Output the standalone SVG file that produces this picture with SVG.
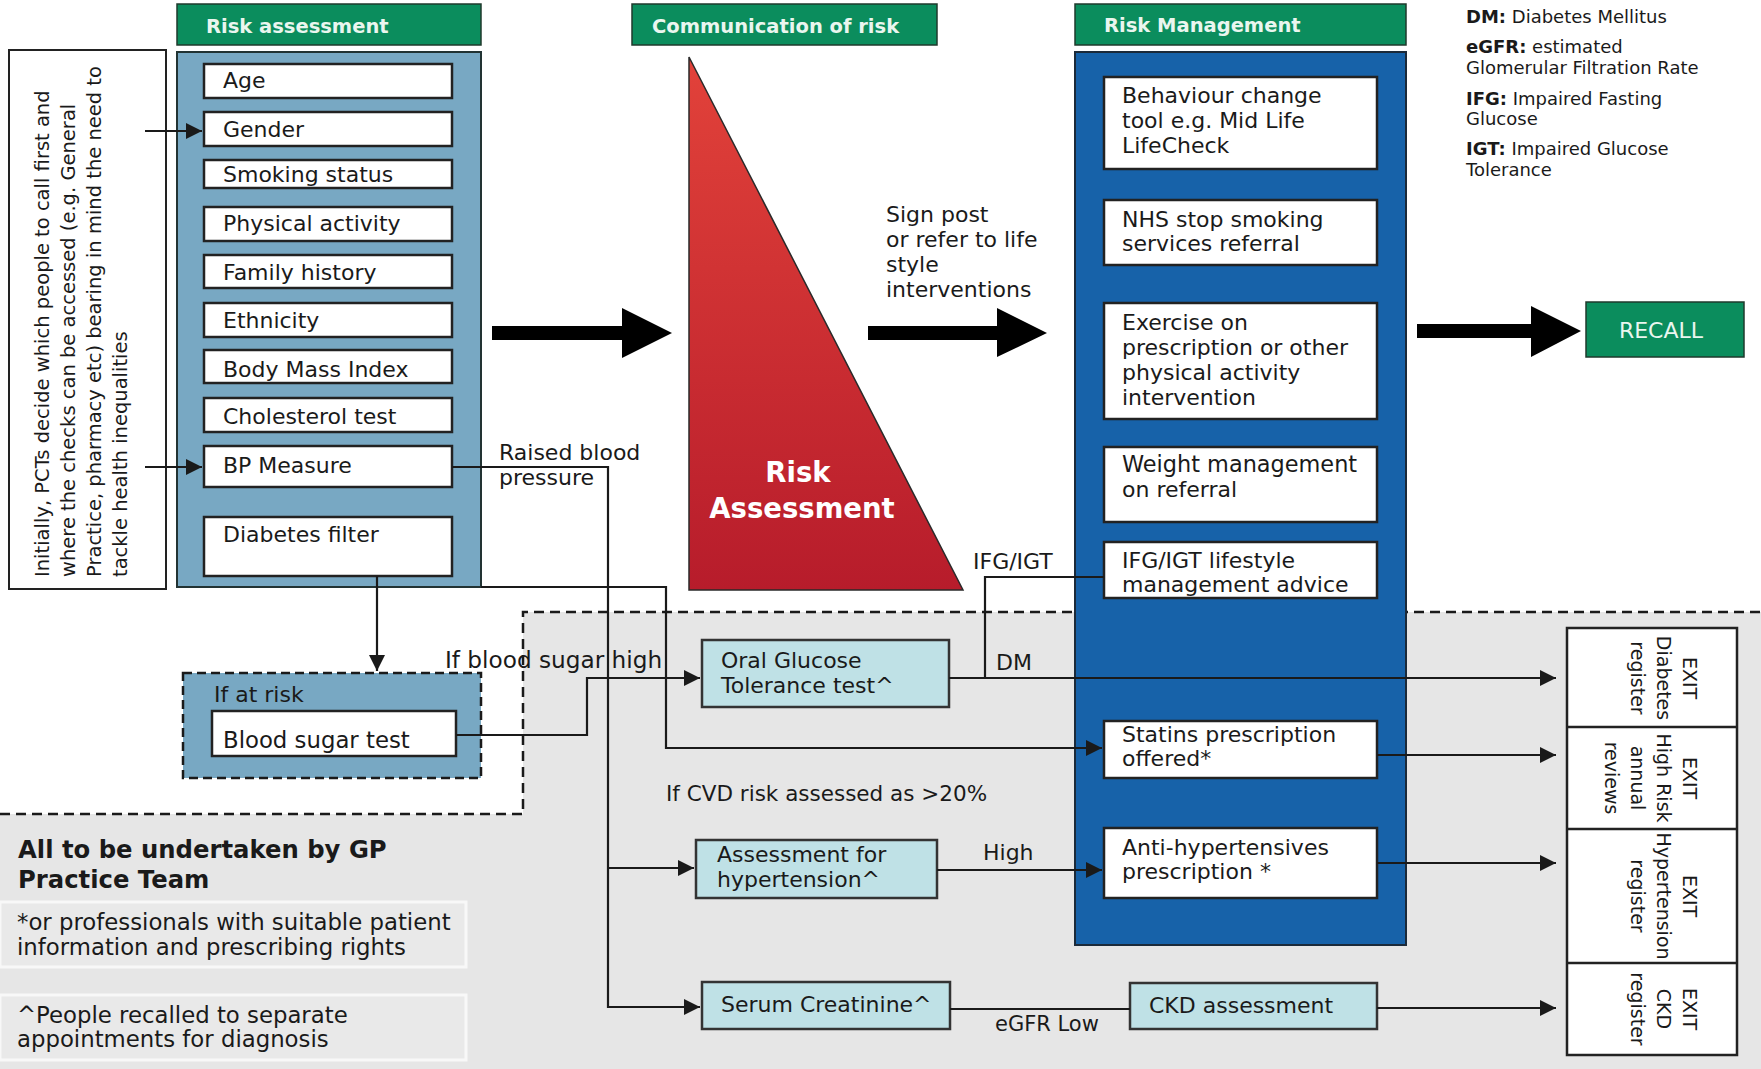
<svg xmlns="http://www.w3.org/2000/svg" width="1761" height="1069" viewBox="0 0 1761 1069" font-size="22">
<defs>
<marker id="ah" viewBox="0 0 10 10" refX="10" refY="5" markerWidth="17" markerHeight="16" markerUnits="userSpaceOnUse" orient="auto"><path d="M0,0 L10,5 L0,10 z" fill="#1a1a1a"/></marker>
<linearGradient id="red" x1="0" y1="0" x2="0" y2="1"><stop offset="0" stop-color="#e2423a"/><stop offset="1" stop-color="#b71c2b"/></linearGradient>
<style>
text{font-family:'DejaVu Sans','Open Sans',sans-serif;fill:#1a1a1a}
.hdr{fill:#0b8d5d;stroke:#1f3a2c;stroke-width:1.5}
.hdrt{font-weight:bold;font-size:19.5px;fill:#eaf6ef}
.item{fill:#ffffff;stroke:#222;stroke-width:2.5}
.cyan{fill:#bfe1e6;stroke:#333;stroke-width:2.5}
.conn{fill:none;stroke:#1a1a1a;stroke-width:2.2}
.arr{marker-end:url(#ah)}
.dash{fill:none;stroke:#1a1a1a;stroke-width:2.5;stroke-dasharray:10 6}
.note{fill:#e9e9e9;stroke:#f8f8f8;stroke-width:3}
.leg{font-size:18px}
.exit{font-size:19px}
.wt{fill:#ffffff;font-weight:bold;font-size:27.5px}
</style>
</defs>
<rect x="0" y="0" width="1761" height="1069" fill="#ffffff"/>
<path d="M523,612 H1761 V1069 H0 V814 H523 Z" fill="#e6e6e6"/>
<path class="dash" d="M0,814 H523 V612 H1761"/>

<g id="note-pcts">
<rect x="9" y="50" width="157" height="539" fill="#fff" stroke="#222" stroke-width="2"/>
<text transform="translate(49,577) rotate(-90)" font-size="19.5"><tspan x="0" y="0">Initially, PCTs decide which people to call first and</tspan><tspan x="0" y="26">where the checks can be accessed (e.g. General</tspan><tspan x="0" y="52">Practice, pharmacy etc) bearing in mind the need to</tspan><tspan x="0" y="78">tackle health inequalities</tspan></text>
</g>

<g id="risk-assessment">
<rect class="hdr" x="177" y="4" width="304" height="41"/>
<text class="hdrt" x="206" y="33">Risk assessment</text>
<rect x="177" y="52" width="304" height="535" fill="#78a8c3" stroke="#233" stroke-width="2"/>
<rect class="item" x="204" y="64" width="248" height="34"/><text x="223" y="88">Age</text>
<rect class="item" x="204" y="112" width="248" height="34"/><text x="223" y="137">Gender</text>
<rect class="item" x="204" y="160" width="248" height="28"/><text x="223" y="182">Smoking status</text>
<rect class="item" x="204" y="207" width="248" height="34"/><text x="223" y="231">Physical activity</text>
<rect class="item" x="204" y="255" width="248" height="33"/><text x="223" y="280">Family history</text>
<rect class="item" x="204" y="303" width="248" height="34"/><text x="223" y="328">Ethnicity</text>
<rect class="item" x="204" y="350" width="248" height="33"/><text x="223" y="377">Body Mass Index</text>
<rect class="item" x="204" y="398" width="248" height="34"/><text x="223" y="424">Cholesterol test</text>
<rect class="item" x="204" y="446" width="248" height="41"/><text x="223" y="473">BP Measure</text>
<rect class="item" x="204" y="517" width="248" height="59"/><text x="223" y="542">Diabetes filter</text>
</g>

<g id="if-at-risk">
<rect x="183" y="673" width="298" height="105" fill="#78a8c3" stroke="#1a1a1a" stroke-width="2.5" stroke-dasharray="9 5"/>
<text x="214" y="702">If at risk</text>
<rect class="item" x="212" y="711" width="244" height="45"/><text x="223" y="748" font-size="22.8">Blood sugar test</text>
</g>

<g id="communication">
<rect class="hdr" x="632" y="4" width="305" height="41"/>
<text class="hdrt" x="652" y="33">Communication of risk</text>
<polygon points="689,57 689,590 963,590" fill="url(#red)" stroke="#2a2a2a" stroke-width="1.5"/>
<text class="wt" x="798" y="482" text-anchor="middle">Risk</text>
<text class="wt" x="802" y="518" text-anchor="middle">Assessment</text>
</g>

<g id="risk-management">
<rect class="hdr" x="1075" y="4" width="331" height="41"/>
<text class="hdrt" x="1104" y="32">Risk Management</text>
<rect x="1075" y="52" width="331" height="893" fill="#1762a9" stroke="#1b2a3a" stroke-width="2"/>
<rect class="item" x="1104" y="77" width="273" height="92"/>
<text x="1122" y="103">Behaviour change</text><text x="1122" y="128">tool e.g. Mid Life</text><text x="1122" y="153">LifeCheck</text>
<rect class="item" x="1104" y="200" width="273" height="65"/>
<text x="1122" y="227">NHS stop smoking</text><text x="1122" y="251">services referral</text>
<rect class="item" x="1104" y="303" width="273" height="116"/>
<text x="1122" y="330">Exercise on</text><text x="1122" y="355">prescription or other</text><text x="1122" y="380">physical activity</text><text x="1122" y="405">intervention</text>
<rect class="item" x="1104" y="447" width="273" height="75"/>
<text x="1122" y="472" font-size="22.4">Weight management</text><text x="1122" y="497">on referral</text>
<rect class="item" x="1104" y="542" width="273" height="56"/>
<text x="1122" y="568">IFG/IGT lifestyle</text><text x="1122" y="592">management advice</text>
<rect class="item" x="1104" y="721" width="273" height="57"/>
<text x="1122" y="742">Statins prescription</text><text x="1122" y="766">offered*</text>
<rect class="item" x="1104" y="828" width="273" height="70"/>
<text x="1122" y="855">Anti-hypertensives</text><text x="1122" y="879">prescription *</text>
</g>

<g id="ogtt"><rect class="cyan" x="702" y="640" width="247" height="67"/><text x="721" y="668">Oral Glucose</text><text x="721" y="693">Tolerance test^</text></g>
<g id="assess-hyp"><rect class="cyan" x="696" y="840" width="241" height="58"/><text x="717" y="862">Assessment for</text><text x="717" y="887">hypertension^</text></g>
<g id="serum"><rect class="cyan" x="702" y="982" width="248" height="47"/><text x="721" y="1012">Serum Creatinine^</text></g>
<g id="ckd"><rect class="cyan" x="1130" y="983" width="247" height="46"/><text x="1149" y="1013">CKD assessment</text></g>

<g id="recall"><rect x="1586" y="302" width="158" height="55" fill="#0b8d5d" stroke="#1f3a2c" stroke-width="1.5"/><text x="1661" y="338" text-anchor="middle" style="fill:#eaf6ef">RECALL</text></g>

<g id="exits" fill="#fff" stroke="#222" stroke-width="2.5">
<rect x="1567" y="628" width="170" height="427"/>
<line x1="1567" y1="727" x2="1737" y2="727"/>
<line x1="1567" y1="829" x2="1737" y2="829"/>
<line x1="1567" y1="963" x2="1737" y2="963"/>
</g>
<g id="exit-diabetes"><text class="exit" text-anchor="middle" transform="translate(1683,678) rotate(90)"><tspan x="0" y="0">EXIT</tspan><tspan x="0" y="26">Diabetes</tspan><tspan x="0" y="52">register</tspan></text></g>
<g id="exit-highrisk"><text class="exit" text-anchor="middle" transform="translate(1683,778) rotate(90)"><tspan x="0" y="0">EXIT</tspan><tspan x="0" y="26">High Risk</tspan><tspan x="0" y="52">annual</tspan><tspan x="0" y="78">reviews</tspan></text></g>
<g id="exit-hypertension"><text class="exit" text-anchor="middle" transform="translate(1683,896) rotate(90)"><tspan x="0" y="0">EXIT</tspan><tspan x="0" y="26">Hypertension</tspan><tspan x="0" y="52">register</tspan></text></g>
<g id="exit-ckd"><text class="exit" text-anchor="middle" transform="translate(1683,1009) rotate(90)"><tspan x="0" y="0">EXIT</tspan><tspan x="0" y="26">CKD</tspan><tspan x="0" y="52">register</tspan></text></g>

<g id="legend">
<text class="leg" x="1466" y="23"><tspan font-weight="bold">DM:</tspan> Diabetes Mellitus</text>
<text class="leg" x="1466" y="53"><tspan font-weight="bold">eGFR:</tspan> estimated</text>
<text class="leg" x="1466" y="74">Glomerular Filtration Rate</text>
<text class="leg" x="1466" y="105"><tspan font-weight="bold">IFG:</tspan> Impaired Fasting</text>
<text class="leg" x="1466" y="125">Glucose</text>
<text class="leg" x="1466" y="155"><tspan font-weight="bold">IGT:</tspan> Impaired Glucose</text>
<text class="leg" x="1466" y="176">Tolerance</text>
</g>

<g id="gp-notes">
<text x="18" y="858" font-weight="bold" font-size="24.3">All to be undertaken by GP</text>
<text x="18" y="888" font-weight="bold" font-size="24.3">Practice Team</text>
<rect class="note" x="0" y="902" width="466" height="65"/>
<text x="17" y="930" font-size="22.8">*or professionals with suitable patient</text>
<text x="17" y="955" font-size="22.8">information and prescribing rights</text>
<rect class="note" x="0" y="995" width="466" height="65"/>
<text x="17" y="1023" font-size="22.8">^People recalled to separate</text>
<text x="17" y="1047" font-size="22.8">appointments for diagnosis</text>
</g>

<g id="connectors">
<polygon points="492,326 622,326 622,308 672,333 622,358 622,340 492,340" fill="#000"/>
<polygon points="868,326 997,326 997,308 1047,333 997,357 997,340 868,340" fill="#000"/>
<polygon points="1417,324 1531,324 1531,306 1581,331 1531,357 1531,338 1417,338" fill="#000"/>
<line class="conn arr" x1="145" y1="131" x2="202" y2="131"/>
<line class="conn arr" x1="145" y1="467" x2="202" y2="467"/>
<line class="conn arr" x1="377" y1="576" x2="377" y2="671"/>
<path class="conn arr" d="M456,735 H587 V678 H700"/>
<path class="conn arr" d="M452,467 H608 V1007 H700"/>
<path class="conn arr" d="M608,868 H694"/>
<path class="conn arr" d="M481,587 H666 V748 H1102"/>
<path class="conn arr" d="M949,678 H1556"/>
<path class="conn" d="M1104,577 H985 V678"/>
<path class="conn arr" d="M937,870 H1102"/>
<path class="conn arr" d="M1377,755 H1556"/>
<path class="conn arr" d="M1377,863 H1556"/>
<path class="conn" d="M950,1009 H1130"/>
<path class="conn arr" d="M1377,1008 H1556"/>
<text x="886" y="222">Sign post</text>
<text x="886" y="247">or refer to life</text>
<text x="886" y="272">style</text>
<text x="886" y="297">interventions</text>
<text x="499" y="460">Raised blood</text>
<text x="499" y="485">pressure</text>
<text x="445" y="668" font-size="23.2">If blood sugar high</text>
<text x="973" y="569">IFG/IGT</text>
<text x="996" y="670">DM</text>
<text x="666" y="801" font-size="21.5">If CVD risk assessed as &gt;20%</text>
<text x="983" y="860">High</text>
<text x="995" y="1031" font-size="21">eGFR Low</text>
</g>
</svg>
